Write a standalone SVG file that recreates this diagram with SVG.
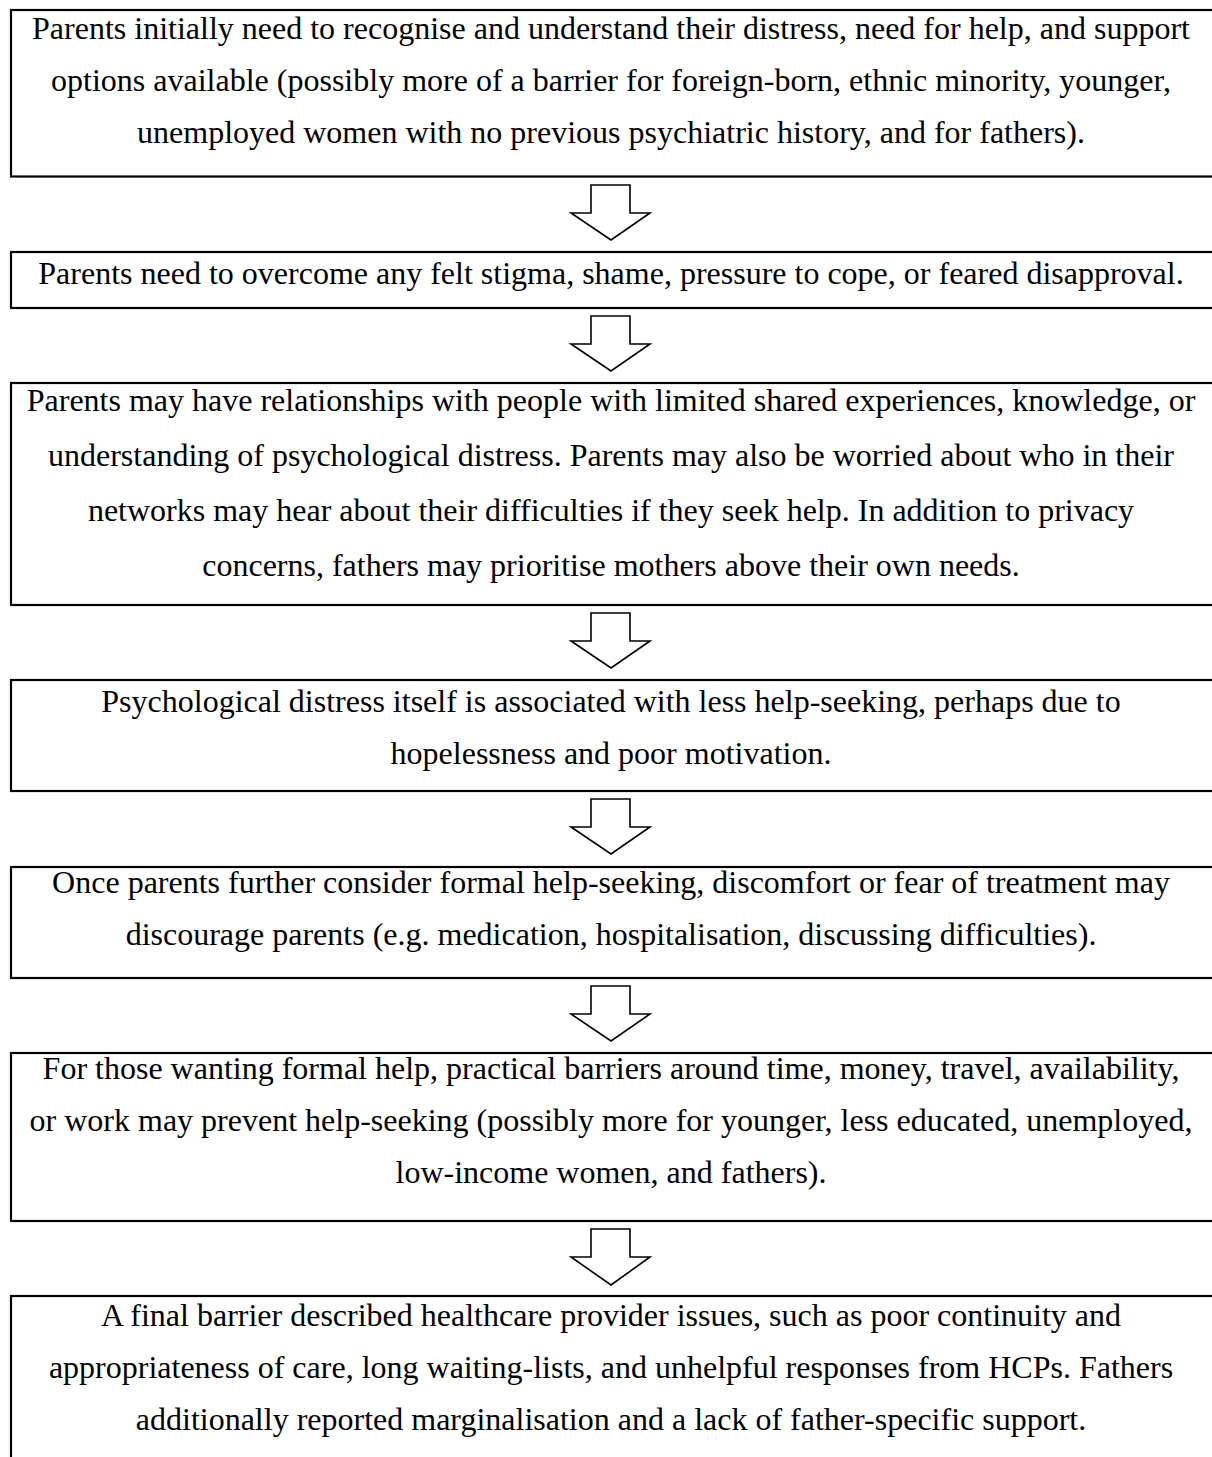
<svg xmlns="http://www.w3.org/2000/svg" width="1212" height="1457" viewBox="0 0 1212 1457">
<style>
.box{fill:#fff;stroke:#000;stroke-width:2.2}
.arr{fill:#fff;stroke:#000;stroke-width:1.6;stroke-linejoin:miter}
text{font-family:"Liberation Serif","Times New Roman",serif;font-size:32px;fill:#000;text-anchor:middle}
</style>
<rect width="1212" height="1457" fill="#fff"/>
<g id="connectors">
<polygon class="arr" points="591,185 630,185 630,213 650,213 611,240 571,213 591,213"/>
<polygon class="arr" points="591,316 630,316 630,344 650,344 611,371 571,344 591,344"/>
<polygon class="arr" points="591,613 630,613 630,641 650,641 611,668 571,641 591,641"/>
<polygon class="arr" points="591,799 630,799 630,827 650,827 611,854 571,827 591,827"/>
<polygon class="arr" points="591,986 630,986 630,1014 650,1014 611,1041 571,1014 591,1014"/>
<polygon class="arr" points="591,1229 630,1229 630,1257 650,1257 611,1285 571,1257 591,1257"/>
</g>
<g id="node1">
<rect class="box" x="11" y="10" width="1230" height="166.5"/>
<text x="611" y="39">Parents initially need to recognise and understand their distress, need for help, and support</text>
<text x="611" y="91">options available (possibly more of a barrier for foreign-born, ethnic minority, younger,</text>
<text x="611" y="143">unemployed women with no previous psychiatric history, and for fathers).</text>
</g>
<g id="node2">
<rect class="box" x="11" y="252" width="1230" height="56"/>
<text x="611" y="284">Parents need to overcome any felt stigma, shame, pressure to cope, or feared disapproval.</text>
</g>
<g id="node3">
<rect class="box" x="11" y="383" width="1230" height="222"/>
<text x="611" y="411">Parents may have relationships with people with limited shared experiences, knowledge, or</text>
<text x="611" y="466">understanding of psychological distress. Parents may also be worried about who in their</text>
<text x="611" y="521">networks may hear about their difficulties if they seek help. In addition to privacy</text>
<text x="611" y="576">concerns, fathers may prioritise mothers above their own needs.</text>
</g>
<g id="node4">
<rect class="box" x="11" y="680" width="1230" height="111"/>
<text x="611" y="712">Psychological distress itself is associated with less help-seeking, perhaps due to</text>
<text x="611" y="764">hopelessness and poor motivation.</text>
</g>
<g id="node5">
<rect class="box" x="11" y="867" width="1230" height="111"/>
<text x="611" y="893">Once parents further consider formal help-seeking, discomfort or fear of treatment may</text>
<text x="611" y="945">discourage parents (e.g. medication, hospitalisation, discussing difficulties).</text>
</g>
<g id="node6">
<rect class="box" x="11" y="1053" width="1230" height="168"/>
<text x="611" y="1079">For those wanting formal help, practical barriers around time, money, travel, availability,</text>
<text x="611" y="1131">or work may prevent help-seeking (possibly more for younger, less educated, unemployed,</text>
<text x="611" y="1183">low-income women, and fathers).</text>
</g>
<g id="node7">
<rect class="box" x="11" y="1296" width="1230" height="200"/>
<text x="611" y="1326">A final barrier described healthcare provider issues, such as poor continuity and</text>
<text x="611" y="1378">appropriateness of care, long waiting-lists, and unhelpful responses from HCPs. Fathers</text>
<text x="611" y="1430">additionally reported marginalisation and a lack of father-specific support.</text>
</g>
</svg>
